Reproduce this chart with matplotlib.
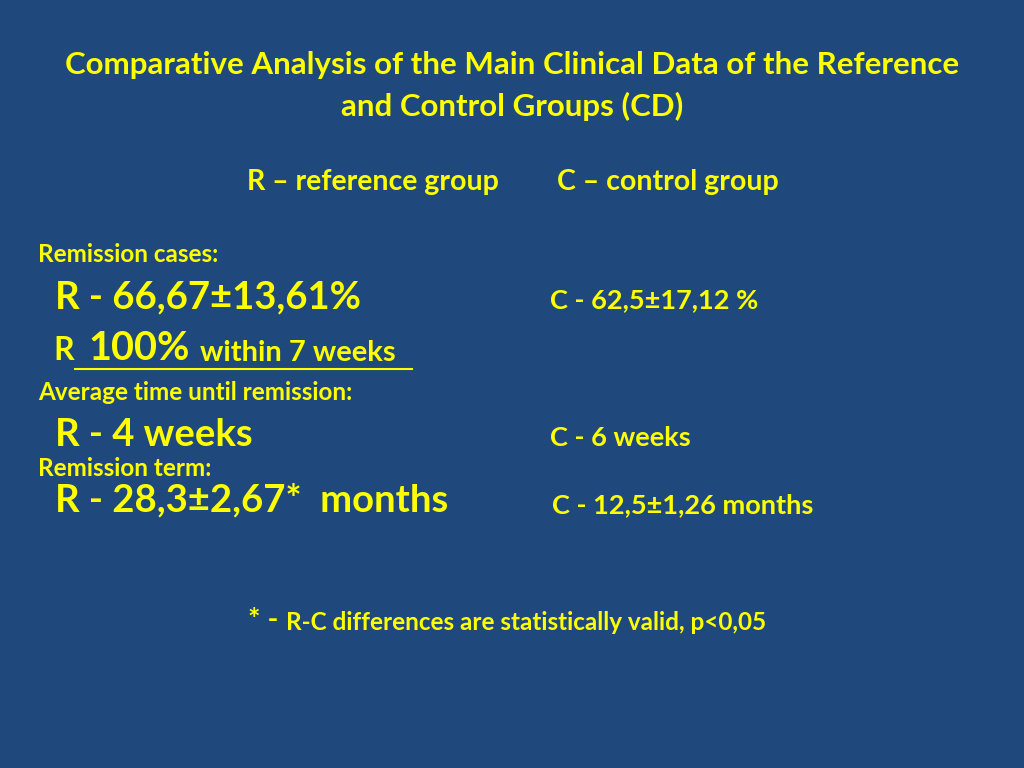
import matplotlib.pyplot as plt
from matplotlib.lines import Line2D

BG = "#1F497D"
YELLOW = "#FFFF00"
FONT = "Lato"

TITLE = ["Comparative Analysis of the Main Clinical Data of the Reference",
         "and Control Groups (CD)"]
LEGEND_R = "R \u2013 reference group"
LEGEND_C = "C \u2013 control group"

HEADERS = ["Remission cases:", "Average time until remission:", "Remission term:"]
R_VALUES = ["R - 66,67\u00b113,61%", "R - 4 weeks", "R - 28,3\u00b12,67*  months"]
C_VALUES = ["C - 62,5\u00b117,12 %", "C - 6 weeks", "C - 12,5\u00b11,26 months"]
NOTE = "R-C differences are statistically valid, p<0,05"

W, H = 1024, 768
fig = plt.figure(figsize=(W / 100, H / 100), dpi=100, facecolor=BG)


def put(x, y, s, size, ha="left"):
    # x, y in pixels from top-left, y is the text centre
    fig.text(x / W, 1 - y / H, s, color=YELLOW, fontsize=size, fontweight="bold",
             family=FONT, ha=ha, va="center")


put(512, 65, TITLE[0], 22.5, ha="center")
put(512, 106, TITLE[1], 22.5, ha="center")
put(373, 182, LEGEND_R, 20.5, ha="center")
put(668, 182, LEGEND_C, 20.5, ha="center")

put(38, 254, HEADERS[0], 17.5)
put(55, 297, R_VALUES[0], 27.5)
put(550, 300, C_VALUES[0], 19.5)

put(53, 351, "R", 23)
put(88, 349, "100%", 28.5)
put(200, 353, "within 7 weeks", 21)
fig.add_artist(Line2D([75 / W, 412 / W], [1 - 369 / H, 1 - 369 / H],
                      color=YELLOW, lw=1.5))

put(38, 392, HEADERS[1], 17.5)
put(55, 435, R_VALUES[1], 27.5)
put(550, 438, C_VALUES[1], 19.5)

put(38, 468, HEADERS[2], 17.5)
put(55, 500, R_VALUES[2], 27.5)
put(552, 505, C_VALUES[2], 19.5)

put(248, 620, "* -", 21)
put(286, 622, NOTE, 17.5)

fig.savefig("out.png", dpi=100, facecolor=BG)
